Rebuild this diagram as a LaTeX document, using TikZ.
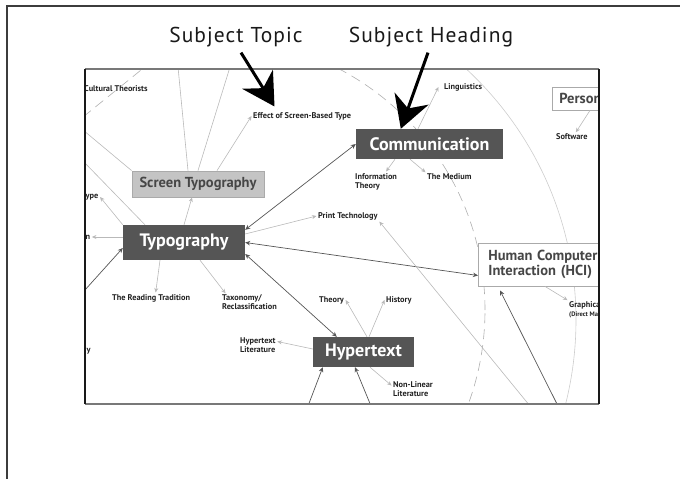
\documentclass[tikz,border=0pt]{standalone}
\usepackage{fontspec}
\setmainfont{PT Sans}
\newfontfamily\calloutfont[LetterSpace=5]{PT Sans}
\usepackage{xcolor}
\usepackage{tikz}
\usetikzlibrary{arrows.meta}

\definecolor{sheet}{RGB}{60,60,60}
\definecolor{hubgray}{RGB}{85,85,85}
\definecolor{subfill}{RGB}{196,196,196}
\definecolor{subedge}{RGB}{170,170,170}
\definecolor{subink}{RGB}{70,70,70}
\definecolor{leafink}{RGB}{34,34,34}
\definecolor{feedgray}{RGB}{185,185,185}
\definecolor{ringgray}{RGB}{205,205,205}
\definecolor{dashgray}{RGB}{175,175,175}
\definecolor{framegray}{RGB}{120,120,120}
\definecolor{frameink}{RGB}{25,25,25}

\begin{document}
\begin{tikzpicture}[x=1pt, y=-1pt,
	hub/.style={fill=hubgray, text=white, font=\bfseries\fontsize{18}{20}\selectfont, inner sep=0pt},
	sub/.style={draw=subedge, line width=0.8pt, text=subink, font=\bfseries\fontsize{14.5}{15.5}\selectfont, inner sep=0pt},
	leaf/.style={anchor=west, align=left, text=leafink, font=\bfseries\fontsize{8.3}{9}\selectfont, inner sep=1.5pt},
	tag/.style={text=black!90, font=\calloutfont\fontsize{21.5}{24}\selectfont, inner sep=2pt},
	feed/.style={draw=feedgray, line width=0.6pt, -{Stealth[length=4.5pt, width=4pt]}},
	trace/.style={draw=feedgray, line width=0.6pt},
	link/.style={draw=hubgray, line width=0.7pt, {Stealth[length=5pt, width=4.5pt]}-{Stealth[length=5pt, width=4.5pt]}},
	inlink/.style={draw=hubgray, line width=0.7pt, -{Stealth[length=5pt, width=4.5pt]}},
	ring/.style={draw=ringgray, line width=0.6pt},
	callout/.style={line width=3pt, -{Stealth[length=32pt, width=36pt]}}]

		\useasboundingbox (0,0) rectangle (680,479);
		
		\draw[sheet, line width=1.5pt] (7,479) -- (7,6) -- (680,6);
		
		\node[tag] (topic) at (236,37.5) {Subject Topic};
		\node[tag] (heading) at (431,37.5) {Subject Heading};
		
		\begin{scope}
		\clip (85,69) rectangle (599,404);
		
		\draw[ring] (234,320) circle[radius=342pt];
		\draw[ring, draw=dashgray, dash pattern=on 10pt off 6pt] (213,310) circle[radius=272pt];
		\draw[ring, draw=dashgray, dash pattern=on 10pt off 6pt] (83,117) -- (146,66);
		
		\node[hub, minimum width=147pt, minimum height=30pt] (comm) at (429.5,144) {Communication};
		\node[hub, minimum width=122pt, minimum height=35pt] (typo) at (184,242.5) {Typography};
		\node[hub, minimum width=101pt, minimum height=30pt] (hyper) at (363.5,352) {Hypertext};
		\node[sub, fill=subfill, minimum width=132pt, minimum height=26pt] (screen) at (198,184) {Screen Typography};
		\node[sub, fill=white, anchor=west, text width=130pt, inner xsep=10pt, minimum height=43pt, align=left] (hci) at (478,264.5) {Human Computer\\Interaction (HCI)};
		\node[sub, fill=white, anchor=west, text width=60pt, inner xsep=7pt, minimum height=23pt, align=left] (person) at (552,98.5) {Person};
		
		\node[leaf] (cult) at (82.5,89) {Cultural Theorists};
		\node[leaf] (effect) at (251.5,116) {Effect of Screen-Based Type};
		\node[leaf] (ling) at (442.5,87) {Linguistics};
		\node[leaf] (soft) at (554.5,137) {Software};
		\node[leaf] (info) at (353.5,181.5) {Information\\Theory};
		\node[leaf] (medium) at (425.5,177) {The Medium};
		\node[leaf] (print) at (316.5,216) {Print Technology};
		\node[leaf] (ypeL) at (84,197) {ype};
		\node[leaf] (nL) at (84,237) {n};
		\node[leaf] (reading) at (110.5,298) {The Reading Tradition};
		\node[leaf] (taxo) at (220.5,302.5) {Taxonomy/\\Reclassification};
		\node[leaf] (yL) at (85,351) {y};
		\node[leaf] (hlit) at (238.5,345.5) {Hypertext\\Literature};
		\node[leaf] (theory) at (317.5,300) {Theory};
		\node[leaf] (history) at (384.5,300) {History};
		\node[leaf] (nonlin) at (391.5,389.5) {Non-Linear\\Literature};
		\node[leaf] (graph) at (567.5,310) {Graphical\\{\fontsize{6.5}{7.5}\selectfont (Direct Ma}};
		
		\coordinate (leftA) at (83,130);
		\coordinate (leftB) at (83,161);
		\coordinate (leftC) at (80,295.5);
		\coordinate (topA) at (178,67);
		\coordinate (topB) at (230,67);
		\coordinate (botA) at (530,406);
		\coordinate (botB) at (308,406);
		\coordinate (botC) at (371,406);
		\coordinate (botD) at (558,406);
		
		%% lines running out of the view
		\draw[trace] ([xshift=-10pt]screen.north) -- (topA);
		\draw[trace] (screen.north) -- (topB);
		\draw[trace] (screen.north west) -- (leftA);
		\draw[trace] ([xshift=-39pt]typo.north) -- (leftB);
		
		\draw[link] ([yshift=-5pt]typo.north east) -- (comm.west);
		\draw[link] (typo.east) -- ([yshift=-11pt]hci.west);
		\draw[link] ([yshift=-11.5pt]typo.east) -- ([xshift=24pt]hyper.north west);
		\draw[inlink] (leftC) -- ([yshift=-5.5pt]typo.west);
		\draw[inlink] (botB) -- ([xshift=10pt]hyper.south west);
		\draw[inlink] (botC) -- ([xshift=-8.5pt]hyper.south);
		\draw[inlink] (botD) -- ([xshift=22pt, yshift=-4pt]hci.south west);
		
		\draw[feed] (typo.north west) -- (ypeL.east);
		\draw[feed] ([yshift=5.5pt]typo.west) -- (nL.east);
		\draw[feed] (typo.north) -- ([xshift=-6pt]screen.south);
		\draw[feed] ([xshift=-24pt]typo.south) -- ([xshift=4.5pt]reading.north);
		\draw[feed] ([xshift=16pt]typo.south) -- ([xshift=5pt]taxo.north west);
		\draw[feed] ([yshift=8.5pt]typo.east) -- (print.west);
		\draw[feed] ([xshift=19pt]screen.north) -- (effect.west);
		\draw[feed] ([xshift=-11.5pt]comm.north) -- ([xshift=-4pt]ling.west);
		\draw[feed] ([xshift=-34.5pt]comm.south) -- ([xshift=10pt]info.north);
		\draw[feed] ([xshift=-19.5pt]comm.south) -- (medium.north west);
		\draw[feed] ([xshift=38pt]person.south west) -- ([xshift=4pt]soft.north);
		\draw[feed] ([xshift=67pt]hci.south west) -- (graph.north west);
		\draw[feed] (botA) -- (print.south east);
		\draw[feed] ([yshift=3pt]hyper.west) -- ([yshift=4pt]hlit.east);
		\draw[feed] ([xshift=3.5pt]hyper.north) -- (theory.east);
		\draw[feed] ([xshift=5.5pt]hyper.north) -- (history.west);
		\draw[feed] ([xshift=6.5pt]hyper.south) -- ([yshift=4pt]nonlin.west);
		\end{scope}
		
		\draw[framegray, line width=1.5pt] (85,69) -- (599,69);
		\draw[framegray, line width=1.5pt] (85,404) -- (599,404);
		\draw[frameink, line width=1.5pt] (85,69) -- (85,404);
		\draw[frameink, line width=1.5pt] (599,69) -- (599,404);
		
		\draw[callout] ([xshift=5pt, yshift=-3pt]topic.south) -- ([xshift=23pt, yshift=4pt]effect.north west);
		\draw[callout] ([xshift=-3pt, yshift=-3pt]heading.south) -- ([xshift=45pt]comm.north west);
		
\end{tikzpicture}
\end{document}
